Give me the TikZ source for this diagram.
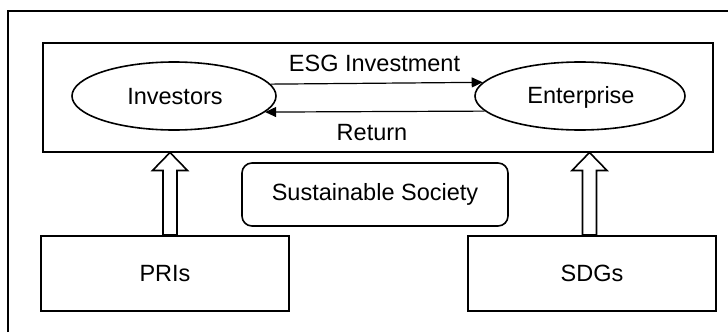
\documentclass[tikz,border=0pt]{standalone}
\usepackage{fontspec}
\setmainfont{Liberation Sans}
\usetikzlibrary{arrows.meta,shapes.geometric,calc}
\begin{document}
\begin{tikzpicture}[x=1pt,y=-1pt,
  txt/.style={font=\fontsize{23.5}{28}\selectfont},
  sqbox/.style={draw,line width=1.8pt,inner sep=0pt,txt},
  oval/.style={draw,ellipse,line width=1.6pt,inner sep=0pt,txt},
  flow/.style={line width=1.2pt,-{Triangle[length=11pt,width=10pt]}},
  blockarrow/.style={draw,line width=1.6pt,fill=white,line join=miter}
]
\useasboundingbox (0,0) rectangle (728,332);
\fill[white] (0,0) rectangle (728,332);
% outer frame (cropped at right and bottom)
\draw[line width=1.1pt] (8,332) -- (8,11) -- (728,11);
% top box
\node[sqbox,minimum width=670pt,minimum height=109pt] (top) at (378,97.5) {};
\node[oval,minimum width=204pt,minimum height=68pt] (inv) at (174,96) {};
\node[txt] at (175,97) {Investors};
\node[oval,minimum width=210pt,minimum height=68pt] (ent) at (580,96) {};
\node[txt] at (581,97) {Enterprise};
\draw[flow] (inv.7.9) -- (ent.172.1);
\draw[flow] (ent.189.8) -- (inv.-10.1);
\node[txt] (esg) at (374.5,63) {ESG Investment};
\node[txt] (ret) at (372,133) {Return};
% sustainable society
\node[draw,rounded corners=10pt,line width=1.6pt,minimum width=266pt,minimum height=63pt,txt] (sus) at (375,194.5) {Sustainable Society};
% bottom boxes
\node[sqbox,minimum width=248pt,minimum height=75pt] (pri) at (165,273.5) {PRIs};
\node[sqbox,minimum width=248pt,minimum height=75pt] (sdg) at (592,273.5) {SDGs};
% hollow block arrows
\coordinate (pa) at (170,235);
\coordinate (pb) at (170,152.5);
\coordinate (sa) at (589.5,235);
\coordinate (sb) at (589.5,152.5);
\path[blockarrow] ($(pa)+(-7,0)$) -- ($(pb)+(-7,18)$) -- ($(pb)+(-17.5,18)$) -- (pb) -- ($(pb)+(17.5,18)$) -- ($(pb)+(7,18)$) -- ($(pa)+(7,0)$) -- cycle;
\path[blockarrow] ($(sa)+(-7,0)$) -- ($(sb)+(-7,18)$) -- ($(sb)+(-17.5,18)$) -- (sb) -- ($(sb)+(17.5,18)$) -- ($(sb)+(7,18)$) -- ($(sa)+(7,0)$) -- cycle;
\end{tikzpicture}
\end{document}
